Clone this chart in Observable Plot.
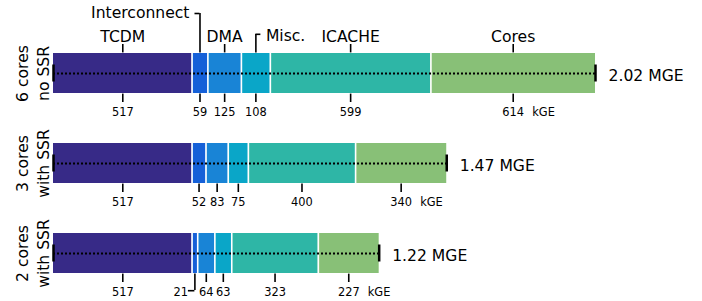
<!DOCTYPE html>
<html>
<head>
<meta charset="utf-8">
<script src="https://cdn.jsdelivr.net/npm/d3@7"></script>
<script src="https://cdn.jsdelivr.net/npm/@observablehq/plot@0.6"></script>
<style>
  html, body { margin: 0; padding: 0; background: white; }
  #chart { width: 702px; height: 301px; overflow: hidden; }
</style>
</head>
<body>
<div id="chart"></div>
<script>
// ---- data ----
const rows = ["6 cores\nno SSR", "3 cores\nwith SSR", "2 cores\nwith SSR"];
const components = ["TCDM", "Interconnect", "DMA", "Misc.", "ICACHE", "Cores"];
const kGE6coresNoSSR = [517, 59, 125, 108, 599, 614];
const kGE3coresSSR = [517, 52, 83, 75, 400, 340];
const kGE2coresSSR = [517, 21, 64, 63, 323, 227];
const totalLabels = ["2.02 MGE", "1.47 MGE", "1.22 MGE"];
const unitLabel = "kGE";
const colors = ["#372a87", "#1560d8", "#1984d6", "#0aa6c8", "#2eb6a6", "#88c077"];

// ---- derived tables ----
const series = [kGE6coresNoSSR, kGE3coresSSR, kGE2coresSSR];
const segments = rows.flatMap((row, r) => {
  let acc = 0;
  return components.map((comp, i) => {
    const v = series[r][i];
    const d = {row, comp, value: v, start: acc, end: acc + v, mid: acc + v / 2, r, i};
    acc += v;
    return d;
  });
});
const rowData = rows.map((row, r) => ({row, total: d3.sum(series[r]), label: totalLabels[r]}));
const caps = rowData.flatMap(d => [{row: d.row, x: 0}, {row: d.row, x: d.total}]);

const topRow = segments.filter(d => d.r === 0);
const topPlain = topRow.filter(d => d.comp !== "Interconnect" && d.comp !== "Misc.");
const topInter = topRow.filter(d => d.comp === "Interconnect");
const topMisc = topRow.filter(d => d.comp === "Misc.");
const isBottomSpecial = d => d.r === 2 && d.comp === "Interconnect";
const bottomSpecial = segments.filter(isBottomSpecial);
const bottomPlain = segments.filter(d => !isBottomSpecial(d));
const lastSeg = segments.filter(d => d.i === components.length - 1);
const separators = segments.filter(d => d.start > 0);

const BW = 40.6; // band height in px
const big = 15.6, small = 11.4;

const chart = Plot.plot({
  width: 702,
  height: 301,
  marginLeft: 53,
  marginRight: 107,
  marginTop: 0,
  marginBottom: 0,
  style: {fontFamily: "'DejaVu Sans', sans-serif", fontSize: big + "px", color: "black", background: "white"},
  x: {domain: [0, 2022], range: [53, 595], axis: null},
  y: {domain: rows, range: [52.3, 273.3], paddingInner: 0.55, paddingOuter: 0, axis: null},
  color: {domain: components, range: colors},
  marks: [
    Plot.barX(segments, {x1: "start", x2: "end", y: "row", fill: "comp"}),
    Plot.tickX(separators, {x: "start", y: "row", stroke: "white", strokeWidth: 1.6}),
    Plot.ruleY(rowData, {x1: () => 0, x2: "total", y: "row", stroke: "black", strokeWidth: 2, strokeDasharray: "2,2"}),
    Plot.tickX(caps, {x: "x", y: "row", insetTop: 11.5, insetBottom: 11.5, strokeWidth: 2.5}),
    // bottom ticks & labels
    Plot.tickX(bottomPlain, {x: "mid", y: "row", insetTop: BW - 9, dy: 9, strokeWidth: 1.6}),
    Plot.text(bottomPlain, {x: "mid", y: "row", text: d => String(d.value), dy: 38.5, fontSize: small}),
    Plot.tickX(bottomSpecial, {x: "mid", y: "row", insetTop: BW - 17, dy: 17, strokeWidth: 1.6}),
    Plot.ruleY(bottomSpecial, {x1: "mid", x2: "mid", y: "row", insetLeft: -6.5, dy: 37.2, strokeWidth: 1.6}),
    Plot.text(bottomSpecial, {x: "mid", y: "row", text: d => String(d.value), textAnchor: "end", dx: -7, dy: 38.5, fontSize: small}),
    Plot.text(lastSeg, {x: "mid", y: "row", text: () => unitLabel, textAnchor: "start", dx: 19, dy: 38.5, fontSize: small}),
    // top ticks & labels (first row)
    Plot.tickX(topPlain, {x: "mid", y: "row", insetBottom: BW - 9, dy: -9, strokeWidth: 1.6}),
    Plot.text(topPlain, {x: "mid", y: "row", text: "comp", dy: -37, fontSize: big}),
    Plot.tickX(topInter, {x: "mid", y: "row", insetBottom: BW - 40, dy: -40, strokeWidth: 1.6}),
    Plot.ruleY(topInter, {x1: "mid", x2: "mid", y: "row", insetLeft: -5, dy: -60, strokeWidth: 1.6}),
    Plot.text(topInter, {x: "mid", y: "row", text: "comp", textAnchor: "end", dx: -10.5, dy: -60.2, fontSize: big}),
    Plot.tickX(topMisc, {x: "mid", y: "row", insetBottom: BW - 19, dy: -19, strokeWidth: 1.6}),
    Plot.ruleY(topMisc, {x1: "mid", x2: "mid", y: "row", insetRight: -5, dy: -39.2, strokeWidth: 1.6}),
    Plot.text(topMisc, {x: "mid", y: "row", text: "comp", textAnchor: "start", dx: 10, dy: -37.2, fontSize: big}),
    // totals
    Plot.text(rowData, {x: "total", y: "row", text: "label", textAnchor: "start", dx: 13, dy: 2, fontSize: big}),
    // row labels
    Plot.text(rowData, {x: () => 0, y: "row", text: "row", rotate: -90, dx: -22, lineHeight: 1.33, fontSize: big})
  ]
});
document.getElementById("chart").appendChild(chart);
</script>
</body>
</html>
